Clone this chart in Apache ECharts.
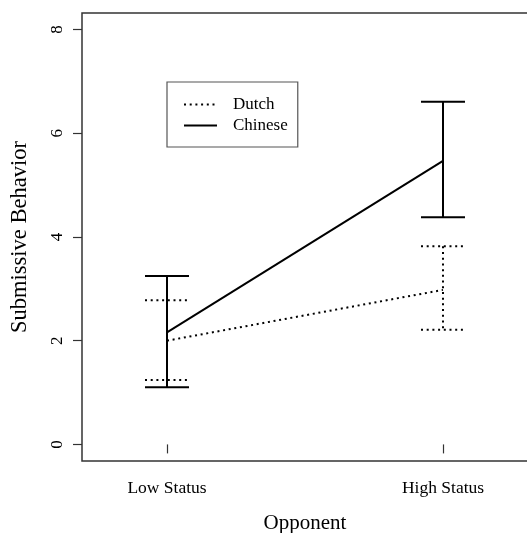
<!DOCTYPE html>
<html>
<head>
<meta charset="utf-8">
<script src="https://cdn.jsdelivr.net/npm/echarts@6/dist/echarts.min.js"></script>
<style>
  html, body { margin: 0; padding: 0; background: #fff; }
  #main { width: 527px; height: 533px; }
</style>
</head>
<body>
<div id="main"></div>
<script>
// 数据
const opponents = ["Low Status", "High Status"];
const dutchMean = [2.0, 2.98];
const dutchLow = [1.24, 2.21];
const dutchHigh = [2.78, 3.82];
const chineseMean = [2.16, 5.47];
const chineseLow = [1.1, 4.38];
const chineseHigh = [3.25, 6.61];
const yTicks = [0, 2, 4, 6, 8];
const xTicks = [1, 2];

const font = "Liberation Serif";
const dotted = [2, 3.7];

// 误差线
function errorBar(dash) {
  return function (params, api) {
    const x = api.value(0);
    const top = api.coord([x, api.value(2)]);
    const bot = api.coord([x, api.value(1)]);
    const half = 22;
    const style = { stroke: "#000", lineWidth: 2, lineDash: dash, fill: null };
    return {
      type: "group",
      children: [
        { type: "line", shape: { x1: top[0], y1: top[1], x2: bot[0], y2: bot[1] }, style },
        { type: "line", shape: { x1: top[0] - half, y1: top[1], x2: top[0] + half, y2: top[1] }, style },
        { type: "line", shape: { x1: bot[0] - half, y1: bot[1], x2: bot[0] + half, y2: bot[1] }, style },
      ],
    };
  };
}

const myChart = echarts.init(document.querySelector("#main"));
const option = {
  animation: false,
  grid: {
    left: 82,
    top: 13,
    right: -1,
    bottom: 72,
    outerBoundsMode: "none",
    containLabel: false,
    show: true,
    borderColor: "#333",
    borderWidth: 1.5,
  },
  legend: {
    data: ["Dutch", "Chinese"],
    orient: "vertical",
    left: 167,
    top: 82,
    padding: [14, 10, 13, 16],
    itemWidth: 33,
    itemHeight: 14,
    itemGap: 4,
    borderColor: "#555",
    borderWidth: 1.2,
    itemStyle: { opacity: 0 },
    lineStyle: { color: "#000", width: 2 },
    textStyle: {
      fontFamily: font,
      fontSize: 17,
      color: "#000",
      padding: [0, 0, 0, 11],
    },
  },
  xAxis: {
    type: "value",
    min: 0.692,
    max: 2.308,
    name: "Opponent",
    nameLocation: "middle",
    nameGap: 52,
    nameTextStyle: { fontFamily: font, fontSize: 21, color: "#000" },
    axisLine: { show: false },
    splitLine: { show: false },
    axisTick: {
      customValues: xTicks,
      length: 9,
      lineStyle: { color: "#333", width: 1.2 },
    },
    axisLabel: {
      customValues: xTicks,
      margin: 18,
      fontFamily: font,
      fontSize: 17.5,
      color: "#000",
      formatter: (v) => opponents[Math.round(v) - 1],
    },
  },
  yAxis: {
    type: "value",
    min: -0.32,
    max: 8.32,
    name: "Submissive Behavior",
    nameLocation: "middle",
    nameGap: 50,
    nameTextStyle: { fontFamily: font, fontSize: 22.5, color: "#000" },
    axisLine: { show: false },
    splitLine: { show: false },
    axisTick: {
      customValues: yTicks,
      length: 9,
      lineStyle: { color: "#333", width: 1.2 },
    },
    axisLabel: {
      customValues: yTicks,
      rotate: 90,
      margin: 16,
      fontFamily: font,
      fontSize: 17,
      color: "#000",
    },
  },
  series: [
    {
      name: "Chinese-err",
      type: "custom",
      renderItem: errorBar(null),
      data: xTicks.map((x, i) => [x, chineseLow[i], chineseHigh[i]]),
      z: 2,
    },
    {
      name: "Dutch-err",
      type: "custom",
      renderItem: errorBar(dotted),
      data: xTicks.map((x, i) => [x, dutchLow[i], dutchHigh[i]]),
      z: 1,
    },
    {
      name: "Dutch",
      type: "line",
      symbol: "none",
      data: xTicks.map((x, i) => [x, dutchMean[i]]),
      lineStyle: { color: "#000", width: 2, type: dotted },
      itemStyle: { color: "#000" },
    },
    {
      name: "Chinese",
      type: "line",
      symbol: "none",
      data: xTicks.map((x, i) => [x, chineseMean[i]]),
      lineStyle: { color: "#000", width: 2, type: "solid" },
      itemStyle: { color: "#000" },
    },
  ],
};
myChart.setOption(option);
</script>
</body>
</html>
